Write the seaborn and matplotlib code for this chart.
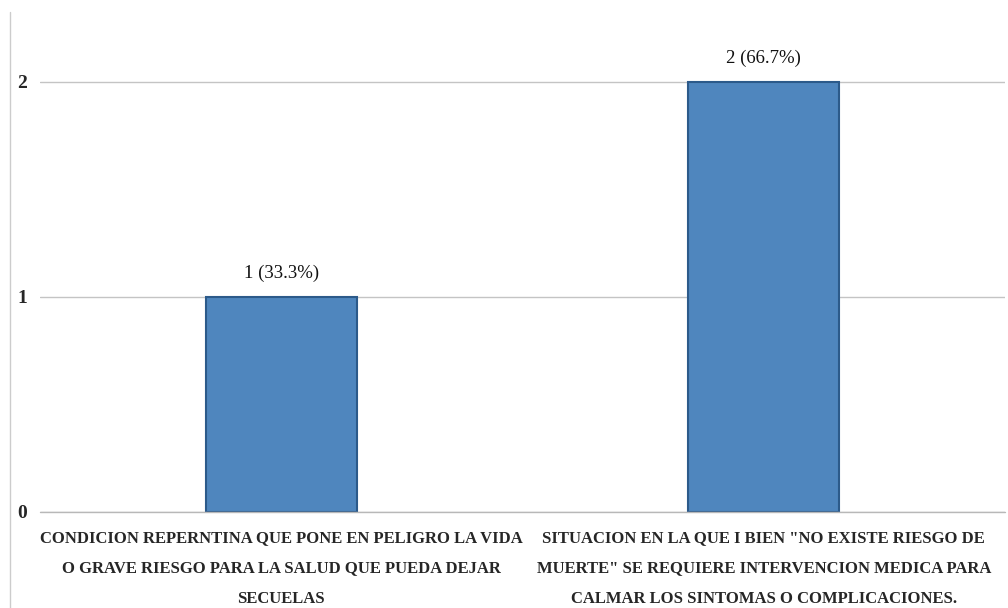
import matplotlib
matplotlib.use("Agg")
import matplotlib.pyplot as plt
from matplotlib.lines import Line2D
import seaborn as sns

# Data
categories = [
    "CONDICION REPERNTINA QUE PONE EN PELIGRO LA VIDA\nO GRAVE RIESGO PARA LA SALUD QUE PUEDA DEJAR\nSECUELAS",
    "SITUACION EN LA QUE I BIEN \"NO EXISTE RIESGO DE\nMUERTE\" SE REQUIERE INTERVENCION MEDICA PARA\nCALMAR LOS SINTOMAS O COMPLICACIONES.",
]
counts = [1, 2]
percents = [33.3, 66.7]
yticks = [0, 1, 2]

sns.set_theme(style="white")
plt.rcParams["font.family"] = ["Liberation Serif", "DejaVu Serif"]

fig = plt.figure(figsize=(10.08, 6.08), dpi=100)
ax = fig.add_axes([40 / 1008, 96 / 608, 965 / 1008, 500 / 608])

sns.barplot(x=categories, y=counts, ax=ax, width=0.313, color="#4F86BE",
            edgecolor="#2C5A8A", linewidth=1.5, saturation=1, zorder=3)

ax.set_xlim(-0.5, 1.5)
ax.set_ylim(0, 2.325)
ax.set_yticks(yticks)
ax.set_yticklabels([str(v) for v in yticks], fontsize=14, fontweight="bold")
ax.tick_params(axis="y", length=0, pad=9)
ax.tick_params(axis="x", length=0, pad=13)
for lbl in ax.get_xticklabels():
    lbl.set_fontsize(12)
    lbl.set_fontweight("bold")
    lbl.set_linespacing(2.2)
    lbl.set_multialignment("center")

ax.grid(axis="y", color="#c4c4c4", linewidth=1, zorder=0)
ax.grid(axis="x", visible=False)
ax.axhline(0, color="#b8b8b8", linewidth=1, zorder=4, clip_on=False)
for side in ["top", "right", "left", "bottom"]:
    ax.spines[side].set_visible(False)
ax.set_xlabel("")
ax.set_ylabel("")

# Value labels above bars
for i, (c, p) in enumerate(zip(counts, percents)):
    ax.annotate(f"{c} ({p:.1f}%)", xy=(i, c), xytext=(0, 11),
                textcoords="offset points", ha="center", va="bottom",
                fontsize=13.5, color="#111111")

# Chart-area border on the left
fig.add_artist(Line2D([10 / 1008, 10 / 1008], [0, 1 - 12 / 608],
                      transform=fig.transFigure, color="#cccccc", linewidth=1))

fig.savefig("out.png", dpi=100, facecolor="white")
